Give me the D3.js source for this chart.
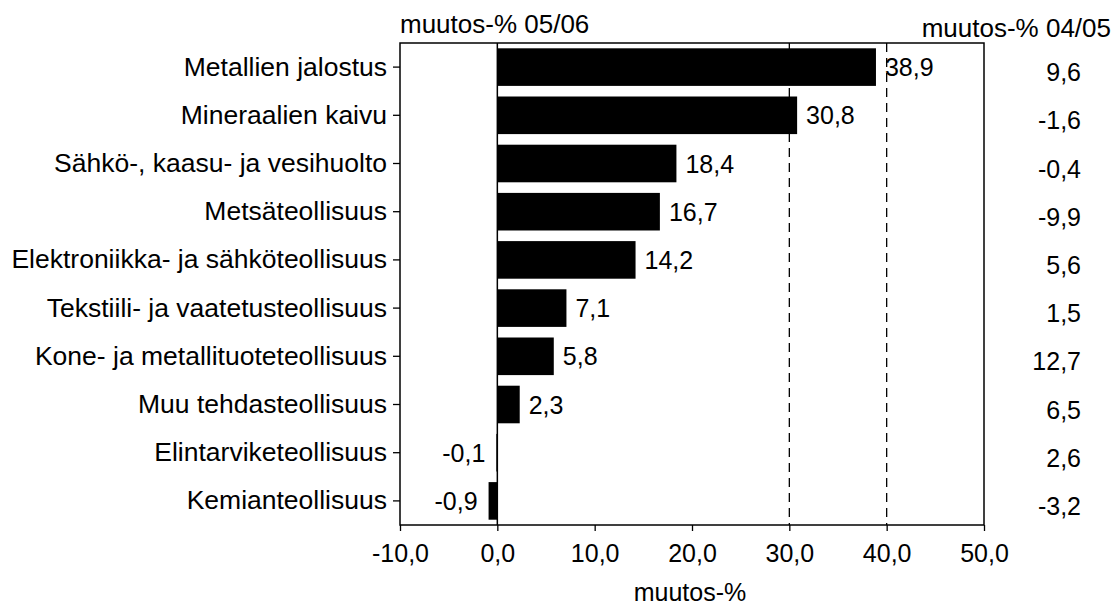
<!DOCTYPE html>
<html>
<head>
<meta charset="utf-8">
<script src="https://cdn.jsdelivr.net/npm/d3@7"></script>
<style>
  body { margin: 0; background: #fff; }
  text { font-family: "Liberation Sans", Arial, sans-serif; fill: #000; }
</style>
</head>
<body>
<svg width="1120" height="609"></svg>
<script>
const categories = ["Metallien jalostus", "Mineraalien kaivu", "Sähkö-, kaasu- ja vesihuolto",
  "Metsäteollisuus", "Elektroniikka- ja sähköteollisuus", "Tekstiili- ja vaatetusteollisuus",
  "Kone- ja metallituoteteollisuus", "Muu tehdasteollisuus", "Elintarviketeollisuus", "Kemianteollisuus"];
const change0506 = [38.9, 30.8, 18.4, 16.7, 14.2, 7.1, 5.8, 2.3, -0.1, -0.9];
const change0405 = [9.6, -1.6, -0.4, -9.9, 5.6, 1.5, 12.7, 6.5, 2.6, -3.2];
const xTicks = [-10, 0, 10, 20, 30, 40, 50];
const gridLines = [30, 40];

const svg = d3.select("svg");
const fmt = d3.formatLocale({decimal: ",", thousands: " ", grouping: [3], currency: ["", ""], minus: "-"}).format(".1f");

const plotL = 400, plotR = 984, plotT = 43, plotB = 525;

const x = d3.scaleLinear().domain([-10, 50]).range([plotL, plotR]);
const y = d3.scaleBand().domain(categories).range([plotT, plotB]).paddingInner(0.22).paddingOuter(0.11);

const rows = categories.map((c, i) => ({cat: c, v: change0506[i], prev: change0405[i]}));

// dashed reference lines
svg.append("g").selectAll("line").data(gridLines).join("line")
  .attr("x1", d => x(d)).attr("x2", d => x(d))
  .attr("y1", plotT).attr("y2", plotB)
  .attr("stroke", "#000").attr("stroke-width", 1.3)
  .attr("stroke-dasharray", "9,6");

// bars
svg.append("g").selectAll("rect").data(rows).join("rect")
  .attr("x", d => x(Math.min(0, d.v)))
  .attr("width", d => Math.abs(x(d.v) - x(0)))
  .attr("y", d => y(d.cat))
  .attr("height", y.bandwidth())
  .attr("fill", "#000");

// zero line
svg.append("line")
  .attr("x1", x(0)).attr("x2", x(0)).attr("y1", plotT).attr("y2", plotB)
  .attr("stroke", "#000").attr("stroke-width", 1.5);

// frame
svg.append("rect")
  .attr("x", plotL).attr("y", plotT).attr("width", plotR - plotL).attr("height", plotB - plotT)
  .attr("fill", "none").attr("stroke", "#000").attr("stroke-width", 1.5);

// bar value labels
svg.append("g").selectAll("text").data(rows).join("text")
  .attr("x", d => d.v >= 0 ? x(d.v) + 9 : x(d.v) - 11)
  .attr("y", d => y(d.cat) + y.bandwidth() / 2)
  .attr("dy", "0.36em")
  .attr("text-anchor", d => d.v >= 0 ? "start" : "end")
  .style("font-size", "25px")
  .text(d => fmt(d.v));

// y axis (categories)
const yAxis = svg.append("g")
  .attr("transform", `translate(${plotL},0)`)
  .call(d3.axisLeft(y).tickSize(7).tickPadding(6));
yAxis.select(".domain").remove();
yAxis.selectAll("text").style("font-size", "26.5px").style("font-family", "Liberation Sans, Arial, sans-serif");
yAxis.selectAll("line").attr("stroke-width", 1.3);

// x axis
const xAxis = svg.append("g")
  .attr("transform", `translate(0,${plotB})`)
  .call(d3.axisBottom(x).tickValues(xTicks).tickFormat(fmt).tickSize(6).tickPadding(13));
xAxis.select(".domain").remove();
xAxis.selectAll("text").style("font-size", "25px").style("font-family", "Liberation Sans, Arial, sans-serif");
xAxis.selectAll("line").attr("stroke-width", 1.3);

// right column of previous values
svg.append("g").selectAll("text").data(rows).join("text")
  .attr("x", 1081)
  .attr("y", d => y(d.cat) + y.bandwidth() / 2 + 5)
  .attr("dy", "0.36em")
  .attr("text-anchor", "end")
  .style("font-size", "25px")
  .text(d => fmt(d.prev));

// headers
svg.append("text").attr("x", plotL).attr("y", 33).style("font-size", "26px").text("muutos-% 05/06");
svg.append("text").attr("x", 1111).attr("y", 37).attr("text-anchor", "end").style("font-size", "26px").text("muutos-% 04/05");
svg.append("text").attr("x", 690).attr("y", 601).attr("text-anchor", "middle").style("font-size", "25px").text("muutos-%");
</script>
</body>
</html>
